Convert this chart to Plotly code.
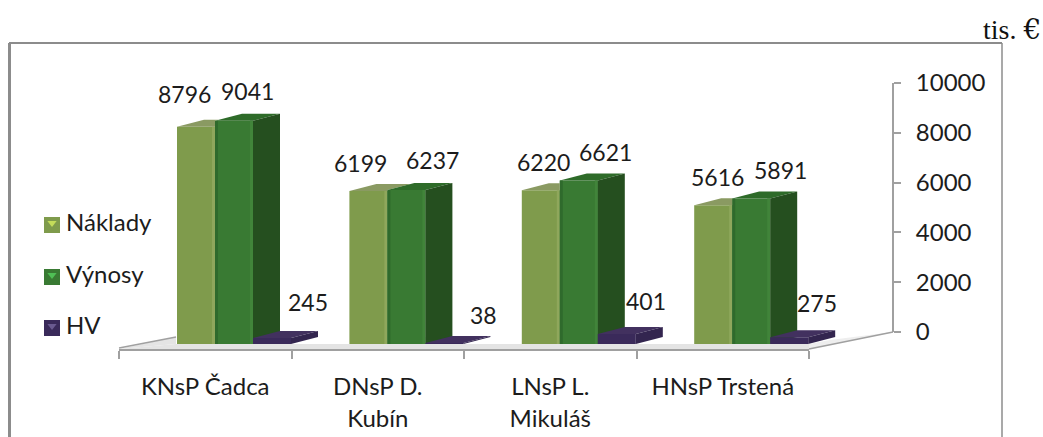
import plotly.graph_objects as go

categories = ["KNsP Čadca", "DNsP D.<br>Kubín", "LNsP L.<br>Mikuláš", "HNsP Trstená"]
naklady = [8796, 6199, 6220, 5616]
vynosy = [9041, 6237, 6621, 5891]
hv = [245, 38, 401, 275]
axis_ticks = [0, 2000, 4000, 6000, 8000, 10000]
legend_names = ["Náklady", "Výnosy", "HV"]

W, H = 1043, 437
FONT = "Lato"
INK = "#1c1c1c"
PX = 0.0247          # px per value unit at the front plane
BASE = 344           # px row of value 0 at the front
GROUP0, GROUP_STEP = 177, 172.4
BAR_W, DEPTH_X, DEPTH_Y = 38, 27, 7
EDGE = 3
DV = DEPTH_Y / PX
val_range = [(BASE - H) / PX, BASE / PX]


def v(py):
    return (BASE - py) / PX


def face(xs, ys, color, axes=("x", "y")):
    return go.Scatter(x=xs + xs[:1], y=ys + ys[:1], mode="lines", fill="toself", fillcolor=color,
                      line=dict(width=0, color=color), hoverinfo="skip", showlegend=False,
                      xaxis=axes[0], yaxis=axes[1])


def strip(xs, ys, color):
    return go.Bar(x=xs, y=ys, width=EDGE, marker=dict(color=color, line_width=0), showlegend=False,
                  hoverinfo="skip")


fig = go.Figure()
x_start = [GROUP0 + GROUP_STEP * i for i in range(len(categories))]

# Náklady / Výnosy fronts, with the soft bevel at their edges
fig.add_trace(go.Bar(x=[s + BAR_W / 2 for s in x_start], y=naklady, width=BAR_W, name="Náklady",
                     marker=dict(color="#7F9B4C", line_width=0), showlegend=False))
fig.add_trace(strip([s + BAR_W - EDGE / 2 for s in x_start], naklady, "#8FA75C"))
fig.add_trace(go.Bar(x=[s + BAR_W * 1.5 for s in x_start], y=vynosy, width=BAR_W, name="Výnosy",
                     marker=dict(color="#397A33", line_width=0), showlegend=False))
fig.add_trace(strip([s + BAR_W + EDGE / 2 for s in x_start], vynosy, "#2F6A2C"))
fig.add_trace(strip([s + 2 * BAR_W - EDGE / 2 for s in x_start], vynosy, "#41843A"))
for s, a, b in zip(x_start, naklady, vynosy):
    x1, x2 = s + BAR_W, s + 2 * BAR_W
    # the Náklady top, up to where the taller Výnosy bar hides it
    if b < a + DV:
        cut = x1 + DEPTH_X * (a + DV - b) / DV
        fig.add_trace(face([s, x1, x1, cut, s + DEPTH_X], [a, a, b, a + DV, a + DV], "#8A9A62"))
    else:
        fig.add_trace(face([s, x1, x1, s + DEPTH_X], [a, a, a + DV, a + DV], "#8A9A62"))
    fig.add_trace(face([x1, x2, x2 + DEPTH_X, x1 + DEPTH_X], [b, b, b + DV, b + DV], "#2E6B29"))
    fig.add_trace(face([x2, x2 + DEPTH_X, x2 + DEPTH_X, x2], [0, DV, b + DV, b], "#254F1F"))
# HV lies in front: its own overlaying subplot
fig.add_trace(go.Bar(x=[s + BAR_W * 2.5 for s in x_start], y=hv, width=BAR_W, name="HV",
                     marker=dict(color="#3A2A5A", line_width=0), showlegend=False,
                     xaxis="x3", yaxis="y3"))
for s, c in zip(x_start, hv):
    x1, x2 = s + 2 * BAR_W, s + 3 * BAR_W
    fig.add_trace(face([x1, x2, x2 + DEPTH_X, x1 + DEPTH_X], [c, c, c + DV, c + DV], "#42315F", ("x3", "y3")))
    fig.add_trace(face([x2, x2 + DEPTH_X, x2 + DEPTH_X, x2], [0, DV, c + DV, c], "#33254F", ("x3", "y3")))

# legend, drawn as swatches with their names
leg_y = [v(225), v(277), v(328)]
leg_fill = ["#7F9B4C", "#397A33", "#3A2A5A"]
leg_mark = ["#C4DC5A", "#4FBF55", "#6A5A90"]
fig.add_trace(go.Scatter(x=[52] * 3, y=leg_y, mode="markers",
                         marker=dict(symbol="square", size=16, color=leg_fill), showlegend=False,
                         hoverinfo="skip"))
fig.add_trace(go.Scatter(x=[52] * 3, y=[u + 2 / PX for u in leg_y], mode="markers",
                         marker=dict(symbol="triangle-down", size=8, color=leg_mark),
                         showlegend=False, hoverinfo="skip"))
fig.add_trace(go.Scatter(x=[66] * 3, y=leg_y, mode="text", text=legend_names,
                         textposition="middle right",
                         textfont=dict(family=FONT, size=24, color=INK), showlegend=False,
                         hoverinfo="skip"))

# invisible traces that bring the drawn axes to life
fig.add_trace(go.Scatter(x=[0, 4], y=[0, 0], mode="none", xaxis="x2", yaxis="y", showlegend=False, hoverinfo="skip"))
fig.add_trace(go.Scatter(x=[0, 1], y=[0, 10000], mode="none", xaxis="x", yaxis="y2", showlegend=False, hoverinfo="skip"))

# value labels with their hand placed offsets in px
label_dx = [[7, 11, 22, 23], [70, 83, 84, 86], [131, 134, 124, 123]]
label_dy = [[33, 28, 28, 28], [30, 30, 28, 28], [36, 28, 33, 34]]
anns = []
for series, dxs, dys in zip([naklady, vynosy, hv], label_dx, label_dy):
    for s, val, dx, dy in zip(x_start, series, dxs, dys):
        anns.append(dict(x=s + dx, y=val, xref="x", yref="y", yshift=dy, text=str(val), showarrow=False,
                         font=dict(family=FONT, size=23, color=INK), xanchor="center", yanchor="middle"))
anns.append(dict(x=1, y=1 - 29 / H, xref="paper", yref="paper", xanchor="right", yanchor="middle",
                 text="tis. <span style=\"font-family:'DejaVu Serif'\">€</span>", showarrow=False,
                 font=dict(family="Liberation Serif", size=28, color="#111")))

GREY = "#A0A0A0"
FRAME = "#8C8C8C"


def pline(x0, y0, x1, y1, w, color):
    return dict(type="line", xref="x", yref="y", x0=x0, y0=v(y0), x1=x1, y1=v(y1),
                line=dict(color=color, width=w), layer="below")


def poly(points, color):
    path = "M" + " L".join(f"{x},{v(y)}" for x, y in points) + " Z"
    return dict(type="path", xref="x", yref="y", path=path, fillcolor=color, line_width=0, layer="below")


shapes = [
    pline(9.5, 43, 9.5, 437, 3, FRAME),
    pline(9, 43, 1002, 43, 2, FRAME),
    pline(1002, 43, 1002, 437, 1.5, FRAME),
    poly([(119, 349), (176, 337), (176, 344), (119, 349)], "#E4E4E4"),
    poly([(176, 344), (816, 344), (809, 349), (119, 349)], "#E4E4E4"),
    poly([(809, 349), (893, 332), (830, 340), (809, 344)], "#EEEEEE"),
    pline(119, 348, 176, 337, 1.5, GREY),
    pline(809, 349, 893, 332, 1.5, GREY),
]

hidden = dict(visible=False, showgrid=False, zeroline=False)
fig.update_layout(
    width=W, height=H, margin=dict(l=0, r=0, t=0, b=0, pad=0, autoexpand=False), autosize=False,
    paper_bgcolor="white", plot_bgcolor="rgba(0,0,0,0)", barmode="overlay", showlegend=False,
    xaxis=dict(range=[0, W], domain=[0, 1], **hidden),
    yaxis=dict(range=val_range, domain=[0, 1], **hidden),
    xaxis3=dict(range=[0, W], domain=[0, 1], overlaying="x", anchor="y3", **hidden),
    yaxis3=dict(range=val_range, domain=[0, 1], overlaying="y", anchor="x3", **hidden),
    xaxis2=dict(domain=[119 / W, 809 / W], range=[0, 4], anchor="free", position=1 - 349.5 / H,
                tickmode="array", tickvals=[0.5, 1.5, 2.5, 3.5], ticktext=categories,
                ticks="", ticklabelstandoff=16, showgrid=False, zeroline=False,
                showline=True, linecolor=GREY, linewidth=2,
                tickfont=dict(family=FONT, size=24, color=INK),
                minor=dict(tickmode="array", tickvals=[0, 1, 2, 3, 4], ticks="outside", ticklen=8,
                           tickwidth=2, tickcolor=GREY, showgrid=False)),
    yaxis2=dict(domain=[1 - 332 / H, 1 - 83 / H], range=[0, 10000], anchor="free", position=893 / W,
                side="right", tickmode="array", tickvals=axis_ticks, ticktext=[str(t) for t in axis_ticks],
                ticks="outside", ticklen=7,
                tickwidth=2, tickcolor=GREY, showline=True, linecolor=GREY, linewidth=2,
                showgrid=False, zeroline=False, ticklabelstandoff=10,
                tickfont=dict(family=FONT, size=24, color=INK)),
    annotations=anns, shapes=shapes,
)
fig.write_html("out.html", config=dict(displayModeBar=False),
               post_script="document.body.style.margin='0';")
